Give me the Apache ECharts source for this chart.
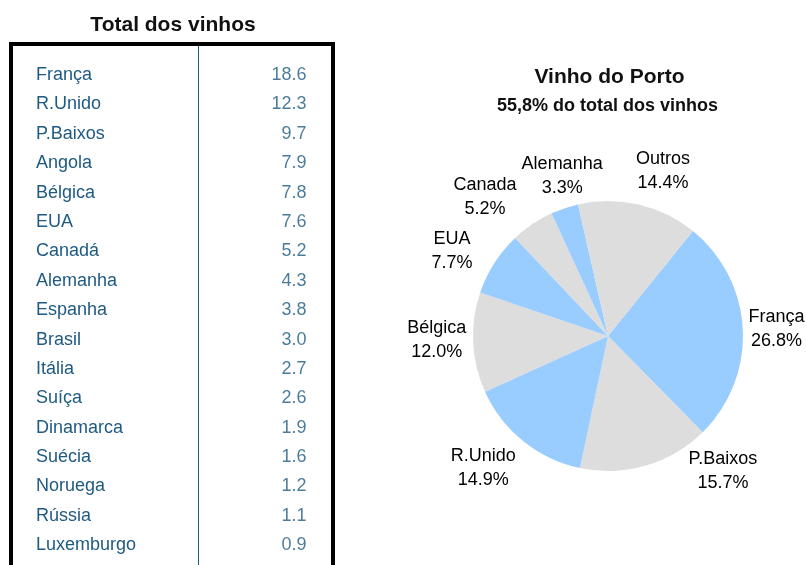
<!DOCTYPE html>
<html>
<head>
<meta charset="utf-8">
<script src="https://cdn.jsdelivr.net/npm/echarts@6/dist/echarts.min.js"></script>
<style>
  html, body { margin: 0; padding: 0; background: #ffffff; }
  #chart { width: 806px; height: 565px; }
</style>
</head>
<body>
<div id="chart"></div>
<script>
// Table: all wine exports by market
const tableCountries = ['França', 'R.Unido', 'P.Baixos', 'Angola', 'Bélgica', 'EUA', 'Canadá', 'Alemanha',
  'Espanha', 'Brasil', 'Itália', 'Suíça', 'Dinamarca', 'Suécia', 'Noruega', 'Rússia', 'Luxemburgo'];
const tableValues = [18.6, 12.3, 9.7, 7.9, 7.8, 7.6, 5.2, 4.3, 3.8, 3.0, 2.7, 2.6, 1.9, 1.6, 1.2, 1.1, 0.9];

// Pie: Port wine share by market (%)
const portNames = ['França', 'P.Baixos', 'R.Unido', 'Bélgica', 'EUA', 'Canada', 'Alemanha', 'Outros'];
const portShares = [26.8, 15.7, 14.9, 12.0, 7.7, 5.2, 3.3, 14.4];

// Label placement around the pie: [angle in degrees (CCW from 3 o'clock), distance from centre]
const labelPolar = [[2.7, 168.7], [-49.4, 176.6], [-133.6, 180.9], [180.9, 171.3],
  [151.1, 178.1], [131.3, 186.4], [105.9, 167.4], [71.6, 174.5]];

const FONT = "'Liberation Sans', Arial, sans-serif";
const TABLE_COLOR = '#1E5A82';
const BLUE = '#99CCFF';
const GREY = '#DDDDDD';
const PIE_CENTER = [608, 336];
const PIE_RADIUS = 135;

const chart = echarts.init(document.getElementById('chart'), null, { renderer: 'canvas' });

chart.setOption({
  animation: false,
  backgroundColor: '#ffffff',
  textStyle: { fontFamily: FONT },
  title: [
    {
      text: 'Total dos vinhos', left: 173, top: 25, padding: 0,
      textAlign: 'center', textVerticalAlign: 'middle',
      textStyle: { fontFamily: FONT, fontSize: 21, fontWeight: 'bold', color: '#111111' }
    },
    {
      text: 'Vinho do Porto', left: 609.5, top: 77, padding: 0,
      textAlign: 'center', textVerticalAlign: 'middle',
      textStyle: { fontFamily: FONT, fontSize: 21, fontWeight: 'bold', color: '#111111' }
    },
    {
      text: '55,8% do total dos vinhos', left: 607.5, top: 106, padding: 0,
      textAlign: 'center', textVerticalAlign: 'middle',
      textStyle: { fontFamily: FONT, fontSize: 18, fontWeight: 'bold', color: '#111111' }
    }
  ],
  graphic: [
    {
      type: 'rect', z: 10, silent: true,
      shape: { x: 11, y: 44, width: 322, height: 600 },
      style: { fill: 'none', stroke: '#000000', lineWidth: 4 }
    },
    {
      type: 'line', z: 10, silent: true,
      shape: { x1: 198.5, y1: 46, x2: 198.5, y2: 570 },
      style: { stroke: TABLE_COLOR, lineWidth: 1 }
    }
  ],
  grid: { left: 36, right: 499, top: 60.3, height: 499.7, containLabel: false, show: false },
  xAxis: { type: 'value', min: 0, max: 1, show: false },
  yAxis: {
    type: 'category',
    inverse: true,
    data: tableCountries,
    axisLine: { show: false },
    axisTick: { show: false },
    splitLine: { show: false },
    axisLabel: {
      inside: true, margin: 0, color: TABLE_COLOR,
      fontFamily: FONT, fontSize: 18, align: 'left'
    }
  },
  series: [
    {
      type: 'scatter',
      symbolSize: 1,
      itemStyle: { color: 'transparent' },
      data: tableValues.map((v, i) => [1, i, v]),
      label: {
        show: true, position: 'left', distance: 0,
        color: TABLE_COLOR, fontFamily: FONT, fontSize: 18,
        formatter: p => p.value[2].toFixed(1)
      },
      silent: true
    },
    {
      type: 'pie',
      center: PIE_CENTER,
      radius: PIE_RADIUS,
      startAngle: 51,
      clockwise: true,
      avoidLabelOverlap: false,
      itemStyle: { borderWidth: 0 },
      data: portNames.map((n, i) => ({
        name: n, value: portShares[i],
        itemStyle: { color: i % 2 === 0 ? BLUE : GREY }
      })),
      label: {
        show: true, position: 'outside',
        color: '#000000', fontFamily: FONT, fontSize: 18, lineHeight: 24,
        align: 'center',
        formatter: p => p.name + '\n' + p.value.toFixed(1) + '%'
      },
      labelLine: { show: false },
      labelLayout: params => {
        const lp = labelPolar[params.dataIndex];
        const a = lp[0] * Math.PI / 180;
        return {
          x: PIE_CENTER[0] + lp[1] * Math.cos(a),
          y: PIE_CENTER[1] + 1 - lp[1] * Math.sin(a),
          align: 'center',
          verticalAlign: 'middle'
        };
      },
      silent: true
    }
  ]
});
</script>
</body>
</html>
